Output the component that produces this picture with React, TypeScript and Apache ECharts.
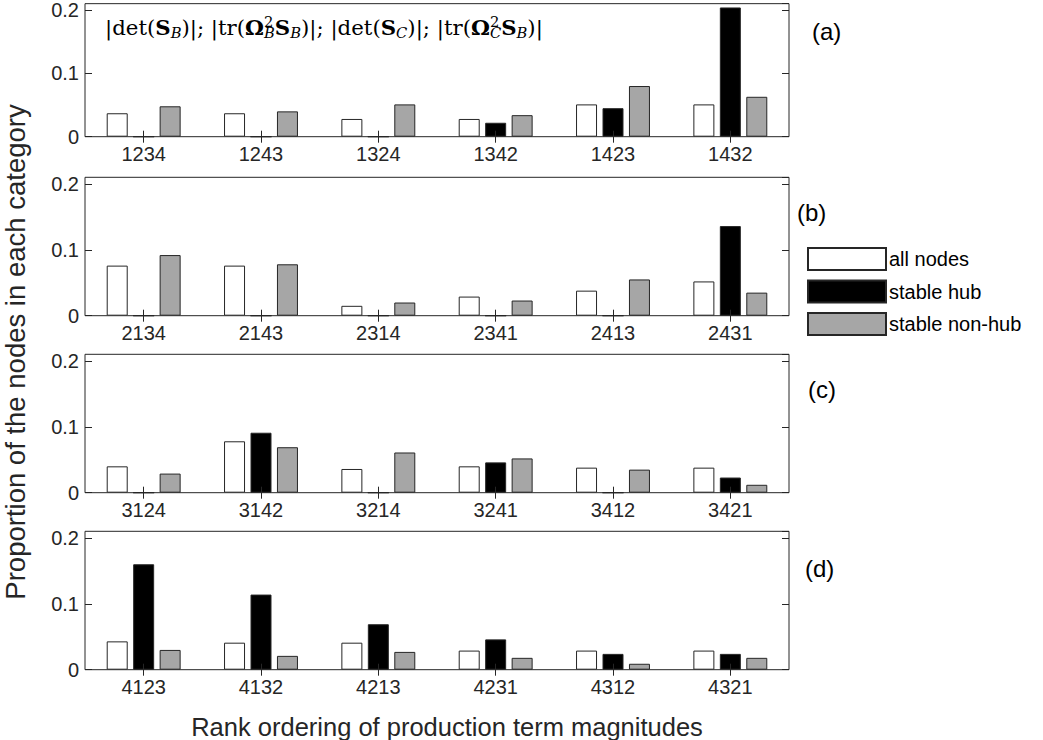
import React, { useEffect, useRef } from "react";
import * as echarts from "echarts";

const catsA = ["1234", "1243", "1324", "1342", "1423", "1432"];
const catsB = ["2134", "2143", "2314", "2341", "2413", "2431"];
const catsC = ["3124", "3142", "3214", "3241", "3412", "3421"];
const catsD = ["4123", "4132", "4213", "4231", "4312", "4321"];

const allA = [0.037, 0.037, 0.028, 0.028, 0.051, 0.051];
const hubA = [0, 0, 0, 0.022, 0.045, 0.204];
const nonA = [0.048, 0.04, 0.051, 0.034, 0.08, 0.063];

const allB = [0.076, 0.076, 0.015, 0.029, 0.038, 0.052];
const hubB = [0, 0, 0, 0, 0, 0.136];
const nonB = [0.092, 0.078, 0.02, 0.023, 0.055, 0.035];

const allC = [0.04, 0.078, 0.036, 0.04, 0.038, 0.038];
const hubC = [0, 0.091, 0, 0.046, 0, 0.023];
const nonC = [0.029, 0.069, 0.061, 0.052, 0.035, 0.012];

const allD = [0.043, 0.041, 0.041, 0.029, 0.029, 0.029];
const hubD = [0.16, 0.114, 0.069, 0.046, 0.024, 0.024];
const nonD = [0.03, 0.021, 0.027, 0.018, 0.009, 0.018];

const seriesNames = ["all nodes", "stable hub", "stable non-hub"];
const panelLabels = ["(a)", "(b)", "(c)", "(d)"];
const yTickLabels = ["0", "0.1", "0.2"];

const categories = [catsA, catsB, catsC, catsD];
const panelData = [
  [allA, hubA, nonA],
  [allB, hubB, nonB],
  [allC, hubC, nonC],
  [allD, hubD, nonD],
];

const SANS = "Liberation Sans, Arial, Helvetica, sans-serif";
const SERIF = "DejaVu Serif, Liberation Serif, serif";
const AX = "#262626";
const fills = ["#ffffff", "#000000", "#a6a6a6"];

const gridTops = [-1.7, 177.3, 354.3, 531.3];
const labelPos = [
  [812, 31],
  [797, 212],
  [808, 389],
  [805, 568],
];

export default function App() {
  const ref = useRef<HTMLDivElement>(null);
  useEffect(() => {
    if (!ref.current) return;
    const chart = echarts.init(ref.current, null, { renderer: "svg" });

    const grid = gridTops.map((t) => ({
      left: 85,
      width: 704,
      top: t,
      height: 138.4,
      show: true,
      borderColor: AX,
      borderWidth: 1,
      backgroundColor: "transparent",
    }));

    const tickStyle = { show: true, inside: true, lineStyle: { color: AX, width: 1 } };

    const xPrimary = categories.map((c, i) => ({
      type: "category",
      gridIndex: i,
      data: c,
      position: "bottom",
      boundaryGap: true,
      axisLine: { show: false },
      axisTick: { ...tickStyle, alignWithLabel: true, length: 6 },
      axisLabel: { margin: 7, fontSize: 20, fontFamily: SANS, color: AX },
      splitLine: { show: false },
      z: 5,
    }));
    const xSecondary = categories.map((c, i) => ({
      type: "category",
      gridIndex: i,
      data: c,
      position: "top",
      boundaryGap: true,
      axisLine: { show: false },
      axisTick: { ...tickStyle, alignWithLabel: true, length: 6 },
      axisLabel: { show: false },
      splitLine: { show: false },
      z: 5,
    }));
    const yPrimary = categories.map((_, i) => ({
      type: "value",
      gridIndex: i,
      min: 0,
      max: 0.21,
      interval: 0.1,
      position: "left",
      axisLine: { show: false },
      axisTick: { ...tickStyle, length: 7 },
      axisLabel: {
        margin: 6,
        fontSize: 20,
        fontFamily: SANS,
        color: AX,
        showMaxLabel: false,
        formatter: (v: number) => {
          const idx = Math.round(v * 10);
          return Math.abs(v * 10 - idx) < 1e-6 && idx < yTickLabels.length ? yTickLabels[idx] : "";
        },
      },
      splitLine: { show: false },
    }));
    const ySecondary = categories.map((_, i) => ({
      type: "value",
      gridIndex: i,
      min: 0,
      max: 0.21,
      interval: 0.1,
      position: "right",
      axisLine: { show: false },
      axisTick: { ...tickStyle, length: 7 },
      axisLabel: { show: false },
      splitLine: { show: false },
    }));

    const series: any[] = [];
    panelData.forEach((arrs, i) => {
      arrs.forEach((vals, k) => {
        series.push({
          type: "bar",
          name: seriesNames[k],
          xAxisIndex: i,
          yAxisIndex: i,
          data: vals,
          barWidth: 21,
          barGap: "26%",
          itemStyle: { color: fills[k], borderColor: AX, borderWidth: 1 },
          emphasis: { disabled: true },
        });
      });
    });

    const formula =
      "{t||det(}{b|S}{s|B}{t|)|; |tr(}{b|Ω}{p|2}{s|B}{b|S}{s|B}{t|)|; |det(}{b|S}{s|C}{t|)|; |tr(}{b|Ω}{p|2}{s|C}{b|S}{s|B}{t|)|}";

    const FS = 21.3;
    const SS = 14.7;
    const graphic: any[] = [
      {
        type: "text",
        x: 105,
        y: 27,
        z: 10,
        style: {
          text: formula,
          align: "left",
          verticalAlign: "middle",
          fontFamily: SERIF,
          fontSize: FS,
          fill: "#000",
          rich: {
            t: { fontFamily: SERIF, fontSize: FS, lineHeight: 26, fill: "#000" },
            b: { fontFamily: SERIF, fontSize: FS, lineHeight: 26, fontWeight: "bold", fill: "#000" },
            s: { fontFamily: SERIF, fontSize: SS, lineHeight: 14, fontStyle: "italic", verticalAlign: "bottom", fill: "#000" },
            p: { fontFamily: SERIF, fontSize: SS, lineHeight: 14, verticalAlign: "top", width: 0, fill: "#000" },
          },
        },
      },
      {
        type: "text",
        x: 447,
        y: 727,
        style: {
          text: "Rank ordering of production term magnitudes",
          align: "center",
          verticalAlign: "middle",
          fontFamily: SANS,
          fontSize: 25.5,
          fill: AX,
        },
      },
      {
        type: "text",
        x: 15,
        y: 352,
        rotation: Math.PI / 2,
        style: {
          text: "Proportion of the nodes in each category",
          align: "center",
          verticalAlign: "middle",
          fontFamily: SANS,
          fontSize: 27.5,
          fill: AX,
        },
      },
      ...panelLabels.map((t, i) => ({
        type: "text",
        x: labelPos[i][0],
        y: labelPos[i][1],
        style: {
          text: t,
          align: "left",
          verticalAlign: "middle",
          fontFamily: SANS,
          fontSize: 24,
          fill: "#000",
        },
      })),
    ];

    chart.setOption({
      animation: false,
      backgroundColor: "#ffffff",
      grid,
      xAxis: [...xPrimary, ...xSecondary],
      yAxis: [...yPrimary, ...ySecondary],
      legend: {
        data: seriesNames,
        orient: "vertical",
        left: 807,
        top: 247,
        itemWidth: 78,
        itemHeight: 22,
        itemGap: 8.5,
        icon: "rect",
        selectedMode: false,
        padding: 0,
        textStyle: { fontSize: 20, fontFamily: SANS, color: "#000", padding: [0, 0, 0, -2] },
      },
      series,
      graphic,
    });

    return () => chart.dispose();
  }, []);

  return <div ref={ref} style={{ width: 1043, height: 740, position: "absolute", left: 0, top: 0 }} />;
}
